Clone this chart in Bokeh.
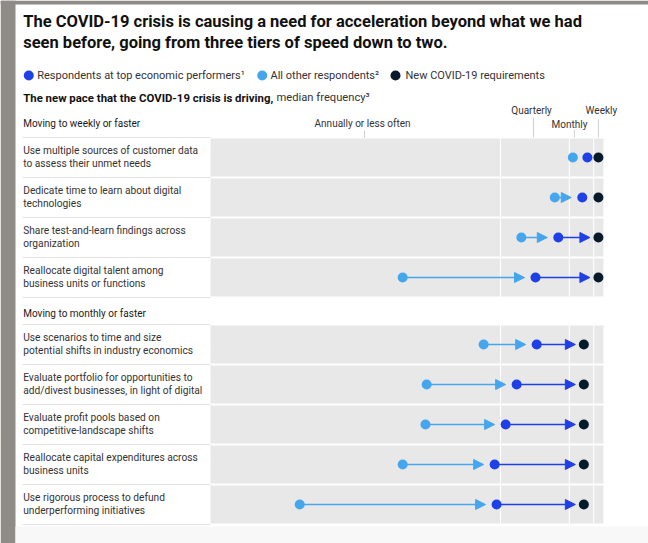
from bokeh.plotting import figure
from bokeh.models import Range1d, ColumnDataSource, Arrow, NormalHead
from bokeh.embed import file_html
from bokeh.resources import INLINE
from bokeh.core.properties import value

# ---------------- data ----------------
title_lines = ["The COVID-19 crisis is causing a need for acceleration beyond what we had",
               "seen before, going from three tiers of speed down to two."]
legend_labels = ["Respondents at top economic performers\u00b9",
                 "All other respondents\u00b2",
                 "New COVID-19 requirements"]
subtitle_bold = "The new pace that the COVID-19 crisis is driving,"
subtitle_rest = "median frequency\u00b3"
group_titles = ["Moving to weekly or faster", "Moving to monthly or faster"]
group_sizes = [4, 5]
activities = [
    "Use multiple sources of customer data\nto assess their unmet needs",
    "Dedicate time to learn about digital\ntechnologies",
    "Share test-and-learn findings across\norganization",
    "Reallocate digital talent among\nbusiness units or functions",
    "Use scenarios to time and size\npotential shifts in industry economics",
    "Evaluate portfolio for opportunities to\nadd/divest businesses, in light of digital",
    "Evaluate profit pools based on\ncompetitive-landscape shifts",
    "Reallocate capital expenditures across\nbusiness units",
    "Use rigorous process to defund\nunderperforming initiatives",
]
# position on the frequency scale (0 = left edge of the panel, 100 = right edge)
all_other = [92.2, 87.6, 79.1, 48.9, 69.5, 55.0, 54.7, 48.9, 22.7]
top_perf = [95.9, 94.6, 88.5, 82.7, 83.0, 77.9, 75.1, 72.3, 72.8]
covid_req = [98.7, 98.7, 98.7, 98.7, 95.0, 95.0, 95.0, 95.0, 95.0]
freq_labels = ["Annually or less often", "Quarterly", "Monthly", "Weekly"]
freq_ticks = [39.2, 82.2, 92.6, 98.7]
grid_values = [73.8, 91.3, 97.5]

# ---------------- style / layout ----------------
W, H = 648, 543
PX0, PXW = 210.0, 393.0          # panel left edge and width in pixels
K = PXW / 100.0                  # pixels per scale unit
def fx(px):
    return (px - PX0) / K

C_TOP = "#1f40e6"
C_OTHER = "#45a6ee"
C_COVID = "#071a2b"
C_PANEL = "#e8e8e8"
C_BAND = "#8f8b87"
C_TEXT = "#333333"
FONT = value("Roboto")

p = figure(width=W, height=H, output_backend="svg", toolbar_location=None,
           x_range=Range1d(fx(0), fx(W)), y_range=Range1d(H, 0),
           x_axis_location=None, y_axis_location=None, min_border=0,
           background_fill_color="white", border_fill_color="white")
p.outline_line_color = None
p.grid.visible = False

# frame bands
p.quad(left=[fx(0)], right=[fx(15)], top=[0], bottom=[H], fill_color=C_BAND, line_color=None, level="image")
p.quad(left=[fx(0)], right=[fx(W)], top=[0], bottom=[4], fill_color=C_BAND, line_color=None, level="image")
p.quad(left=[fx(15)], right=[fx(W)], top=[526], bottom=[H], fill_color="#f8f8f8", line_color=None, level="image")

# rows geometry
ROW_H = 40
group_tops = [137, 324]
row_tops = []
for g, n in enumerate(group_sizes):
    row_tops += [group_tops[g] + ROW_H * i for i in range(n)]
row_c = [t + 20 for t in row_tops]

# gray panels
p.quad(left=[0] * len(row_tops), right=[100] * len(row_tops),
       top=[t + 1 for t in row_tops], bottom=[t + ROW_H - 1 for t in row_tops],
       fill_color=C_PANEL, line_color=None, level="image")
# white grid lines inside panels
gx0, gx1, gy0, gy1 = [], [], [], []
for g, n in enumerate(group_sizes):
    for v in grid_values:
        gx0.append(v); gx1.append(v)
        gy0.append(group_tops[g]); gy1.append(group_tops[g] + ROW_H * n)
p.segment(x0=gx0, x1=gx1, y0=gy0, y1=gy1, line_color="white", line_width=1, level="image")

# separators in label column
sep_y = []
for g, n in enumerate(group_sizes):
    sep_y += [group_tops[g] + ROW_H * i for i in range(n + 1)]
p.segment(x0=[fx(22)] * len(sep_y), x1=[0] * len(sep_y), y0=sep_y, y1=sep_y,
          line_color="#e3e3e3", line_width=1, level="image")

# header ticks and labels
tick_tops = [130, 117, 129, 119]
label_y = [123, 110, 124, 110]
label_dx = [-2, -2, -5, 3]
p.segment(x0=freq_ticks, x1=freq_ticks, y0=tick_tops, y1=[137] * 4,
          line_color="#cfcfcf", line_width=1, level="image")
p.text(x=[t + d / K for t, d in zip(freq_ticks, label_dx)], y=label_y, text=freq_labels,
       text_font=FONT, text_font_size="10px", text_color=C_TEXT,
       text_align="center", text_baseline="middle")

# arrows
def arrows(starts, ends, gap_px, color):
    xs, xe, ys = [], [], []
    for a, b, y in zip(starts, ends, row_c):
        if (b - a) * K > 20:
            xs.append(a); xe.append(b - gap_px / K); ys.append(y)
    src = ColumnDataSource(dict(x0=xs, x1=xe, y=ys))
    arr = Arrow(x_start="x0", y_start="y", x_end="x1", y_end="y", source=src,
                line_color=color, line_width=1.6, level="underlay",
                end=NormalHead(size=10, fill_color=color, line_color=color, line_width=1))
    p.add_layout(arr)

arrows(all_other, top_perf, 11, C_OTHER)
arrows(top_perf, covid_req, 8.5, C_TOP)

# dots
p.scatter(x=all_other, y=row_c, size=10, fill_color=C_OTHER, line_color=None)
p.scatter(x=top_perf, y=row_c, size=10, fill_color=C_TOP, line_color=None)
p.scatter(x=covid_req, y=row_c, size=10, fill_color=C_COVID, line_color=None)

# row labels (two lines each)
lx, ly, lt = [], [], []
for lab, c in zip(activities, row_c):
    lines = lab.split("\n")
    for j, ln in enumerate(lines):
        lx.append(fx(22.7)); ly.append(c - 0.5 - 6.6 + 13.2 * j); lt.append(ln)
p.text(x=lx, y=ly, text=lt, text_font=FONT, text_font_size="10.2px", text_color=C_TEXT,
       text_align="left", text_baseline="middle")

# group titles
p.text(x=[fx(22.7)] * 2, y=[123, 313], text=group_titles, text_font=FONT,
       text_font_size="10px", text_color="#1a1a1a", text_align="left", text_baseline="middle")

# title
p.text(x=[fx(22.7)] * 2, y=[21, 42], text=title_lines, text_font=FONT,
       text_font_size="16.5px", text_font_style="bold", text_color="#111111",
       text_align="left", text_baseline="middle")

# legend
leg_dot_px = [28.3, 261.7, 395]
leg_txt_px = [36.7, 270, 405]
p.scatter(x=[fx(v) for v in leg_dot_px], y=[75] * 3, size=10,
          fill_color=[C_TOP, C_OTHER, C_COVID], line_color=None)
p.text(x=[fx(v) for v in leg_txt_px], y=[75] * 3, text=legend_labels, text_font=FONT,
       text_font_size="11px", text_color=C_TEXT, text_align="left", text_baseline="middle")

# subtitle
p.text(x=[fx(22.7)], y=[97], text=[subtitle_bold], text_font=FONT, text_font_size="11.4px",
       text_font_style="bold", text_color="#111111", text_align="left", text_baseline="middle")
p.text(x=[fx(276)], y=[97], text=[subtitle_rest], text_font=FONT, text_font_size="11.2px",
       text_color=C_TEXT, text_align="left", text_baseline="middle")

open("out.html", "w").write(file_html(p, INLINE))
